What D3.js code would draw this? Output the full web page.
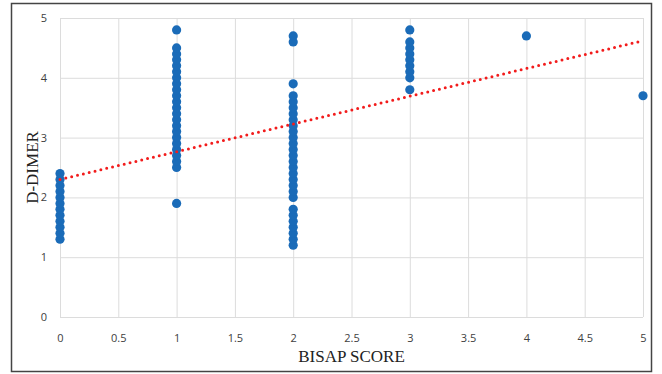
<!DOCTYPE html>
<html>
<head>
<meta charset="utf-8">
<script src="https://cdn.jsdelivr.net/npm/d3@7"></script>
<style>
  body { margin: 0; background: #fff; }
  .tick text { font-family: "Open Sans", "Liberation Sans", sans-serif; font-size: 11px; fill: #404040; }
  .title { font-family: "Liberation Serif", "DejaVu Serif", serif; font-size: 17px; fill: #222; }
</style>
</head>
<body>
<div id="chart"></div>
<script>
// ---- Data -----------------------------------------------------------
const scoreValues = [0, 1, 2, 3, 4, 5];
const dimerByScore = [
  [1.3, 1.4, 1.5, 1.6, 1.7, 1.8, 1.9, 2.0, 2.1, 2.2, 2.3, 2.4],
  [1.9, 2.5, 2.6, 2.7, 2.8, 2.9, 3.0, 3.1, 3.2, 3.3, 3.4, 3.5, 3.6, 3.7, 3.8, 3.9, 4.0, 4.1, 4.2, 4.3, 4.4, 4.5, 4.8],
  [1.2, 1.3, 1.4, 1.5, 1.6, 1.7, 1.8, 2.0, 2.1, 2.2, 2.3, 2.4, 2.5, 2.6, 2.7, 2.8, 2.9, 3.0, 3.1, 3.2, 3.3, 3.4, 3.5, 3.6, 3.7, 3.9, 4.6, 4.7],
  [3.8, 4.0, 4.1, 4.2, 4.3, 4.4, 4.5, 4.6, 4.8],
  [4.7],
  [3.7]
];
const trendX = [0, 5];
const trendY = [2.3, 4.62];
const xTicks = [0, 0.5, 1, 1.5, 2, 2.5, 3, 3.5, 4, 4.5, 5];
const yTicks = [0, 1, 2, 3, 4, 5];

const dataset = scoreValues.flatMap((s, i) => dimerByScore[i].map(v => ({ score: s, dimer: v })));
const trend = trendX.map((x, i) => ({ score: x, dimer: trendY[i] }));

// ---- Dimensions -----------------------------------------------------
const dimensions = {
  width: 662,
  height: 374,
  margin: { top: 18, right: 19, bottom: 57, left: 60 }
};
dimensions.ctrWidth  = dimensions.width  - dimensions.margin.left - dimensions.margin.right;
dimensions.ctrHeight = dimensions.height - dimensions.margin.top  - dimensions.margin.bottom;

const svg = d3.select('#chart')
  .append('svg')
  .attr('width', dimensions.width)
  .attr('height', dimensions.height);

// outer frame
svg.append('rect')
  .attr('x', 11.5).attr('y', 3.5)
  .attr('width', 640).attr('height', 368)
  .attr('fill', 'none')
  .attr('stroke', '#444')
  .attr('stroke-width', 1.5);

const ctr = svg.append('g')
  .attr('transform', `translate(${dimensions.margin.left},${dimensions.margin.top})`);

// ---- Scales ---------------------------------------------------------
const xScale = d3.scaleLinear().domain([0, 5]).range([0, dimensions.ctrWidth]);
const yScale = d3.scaleLinear().domain([0, 5]).range([dimensions.ctrHeight, 0]);

// ---- Grid -----------------------------------------------------------
ctr.append('g')
  .selectAll('line')
  .data(xTicks)
  .join('line')
  .attr('x1', d => xScale(d) + 0.5).attr('x2', d => xScale(d) + 0.5)
  .attr('y1', 0).attr('y2', dimensions.ctrHeight)
  .attr('stroke', '#dcdcdc');

ctr.append('g')
  .selectAll('line')
  .data(yTicks)
  .join('line')
  .attr('y1', d => yScale(d) + 0.5).attr('y2', d => yScale(d) + 0.5)
  .attr('x1', 0).attr('x2', dimensions.ctrWidth)
  .attr('stroke', '#dcdcdc');

// ---- Axes -----------------------------------------------------------
const xAxis = d3.axisBottom(xScale).tickValues(xTicks).tickSize(0).tickPadding(17).tickFormat(d3.format('~g'));
const xAxisGroup = ctr.append('g')
  .attr('transform', `translate(0,${dimensions.ctrHeight})`)
  .call(xAxis);
xAxisGroup.select('.domain').remove();

const yAxis = d3.axisLeft(yScale).tickValues(yTicks).tickSize(0).tickPadding(13).tickFormat(d3.format('d'));
const yAxisGroup = ctr.append('g').call(yAxis);
yAxisGroup.select('.domain').remove();

svg.append('text')
  .classed('title', true)
  .attr('x', dimensions.margin.left + dimensions.ctrWidth / 2)
  .attr('y', 362)
  .attr('text-anchor', 'middle')
  .text('BISAP SCORE');

svg.append('text')
  .classed('title', true)
  .attr('transform', `translate(38,${dimensions.margin.top + dimensions.ctrHeight / 2}) rotate(-90)`)
  .attr('text-anchor', 'middle')
  .text('D-DIMER');

// ---- Dots -----------------------------------------------------------
ctr.append('g')
  .selectAll('circle')
  .data(dataset)
  .join('circle')
  .attr('cx', d => xScale(d.score))
  .attr('cy', d => yScale(d.dimer))
  .attr('r', 4.6)
  .attr('fill', '#1a6bb8');

// ---- Trend line -----------------------------------------------------
ctr.append('path')
  .datum(trend)
  .attr('d', d3.line().x(d => xScale(d.score)).y(d => yScale(d.dimer)))
  .attr('fill', 'none')
  .attr('stroke', '#f21c1c')
  .attr('stroke-width', 3)
  .attr('stroke-linecap', 'round')
  .attr('stroke-dasharray', '0 6');
</script>
</body>
</html>
